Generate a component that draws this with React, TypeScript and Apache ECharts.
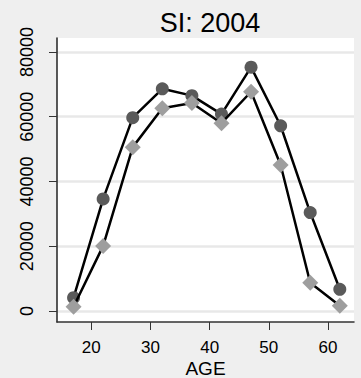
import React, { useEffect, useRef } from "react";
import * as echarts from "echarts";

// Age group midpoints and the two series plotted against them
const ages = [17, 22, 27, 32, 37, 42, 47, 52, 57, 62];
const circleValues = [4100, 34600, 59700, 68600, 66500, 60800, 75300, 57200, 30400, 6700];
const diamondValues = [1300, 20100, 50600, 62600, 64200, 58000, 67700, 45100, 8700, 1600];

const xTicks = [20, 30, 40, 50, 60];
const yTicks = [0, 20000, 40000, 60000, 80000];

const FONT = "'Liberation Sans', Arial, sans-serif";

export default function App() {
  const ref = useRef<HTMLDivElement>(null);

  useEffect(() => {
    if (!ref.current) return;
    const chart = echarts.init(ref.current, undefined, { renderer: "svg" });

    const pair = (vals: number[]) => ages.map((a, i) => [a, vals[i]]);

    chart.setOption({
      animation: false,
      backgroundColor: "#efefef",
      title: {
        text: "SI: 2004",
        left: 205,
        top: 4,
        textAlign: "center",
        textStyle: { fontFamily: FONT, fontSize: 27, fontWeight: "normal", color: "#000" },
      },
      grid: {
        left: 57,
        right: 7,
        top: 38,
        bottom: 56,
        outerBoundsMode: "none",
        containLabel: false,
        show: true,
        backgroundColor: "#ffffff",
        borderWidth: 0,
      },
      xAxis: {
        type: "value",
        min: 14.2,
        max: 64.4,
        name: "AGE",
        nameLocation: "middle",
        nameGap: 37,
        nameMoveOverlap: false,
        nameTextStyle: {
          fontFamily: FONT,
          fontSize: 19,
          lineHeight: 19,
          color: "#000",
          verticalAlign: "top",
        },
        axisLine: { show: true, onZero: false, lineStyle: { color: "#333", width: 1.5 } },
        axisTick: { show: true, length: 8, customValues: xTicks, lineStyle: { color: "#333" } },
        axisLabel: {
          customValues: xTicks,
          margin: 17,
          fontFamily: FONT,
          fontSize: 17,
          lineHeight: 17,
          color: "#000",
        },
        splitLine: { show: false },
      },
      yAxis: {
        type: "value",
        min: -3400,
        max: 84300,
        axisLine: { show: true, onZero: false, lineStyle: { color: "#222", width: 1.5 } },
        axisTick: { show: true, length: 8, customValues: yTicks, lineStyle: { color: "#333" } },
        axisLabel: {
          customValues: yTicks,
          formatter: (v: number) => String(v),
          rotate: 90,
          margin: 21,
          fontFamily: FONT,
          fontSize: 18,
          color: "#000",
        },
        splitLine: { show: true, lineStyle: { color: "#e8e8e8", width: 2.5 } },
      },
      series: [
        {
          name: "Series 1",
          type: "line",
          data: pair(circleValues),
          symbol: "circle",
          symbolSize: 13,
          itemStyle: { color: "#5a5a5a" },
          lineStyle: { color: "#000", width: 2.5 },
          z: 2,
        },
        {
          name: "Series 2",
          type: "line",
          data: pair(diamondValues),
          symbol: "diamond",
          symbolSize: 16,
          itemStyle: { color: "#9e9e9e" },
          lineStyle: { color: "#000", width: 2.5 },
          z: 3,
        },
      ],
    });

    return () => chart.dispose();
  }, []);

  return (
    <div
      ref={ref}
      style={{ position: "fixed", left: 0, top: 0, width: 361, height: 378 }}
    />
  );
}
